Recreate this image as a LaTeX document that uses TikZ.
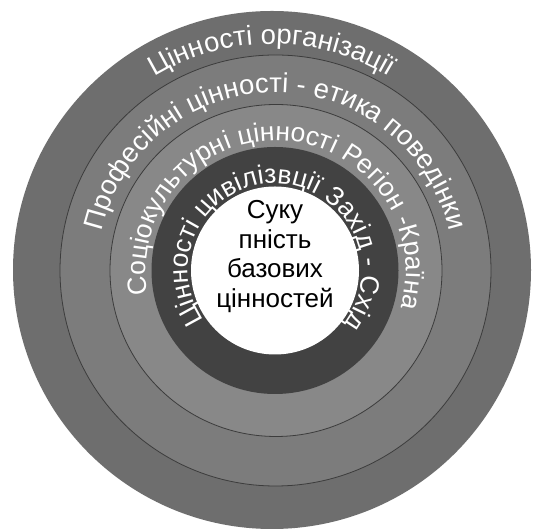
\documentclass[tikz,border=0pt]{standalone}
\usepackage{fontspec}
\setmainfont{Liberation Sans}
\usetikzlibrary{decorations.text}
\definecolor{ringA}{RGB}{110,110,110}
\definecolor{ringB}{RGB}{124,124,124}
\definecolor{ringC}{RGB}{136,136,136}
\definecolor{ringD}{RGB}{66,66,66}
\definecolor{edgeline}{RGB}{60,60,60}
\newcommand{\ringfontA}{\fontsize{27.5}{32}\selectfont\color{white}}
\newcommand{\ringfontB}{\fontsize{26.5}{31}\selectfont\color{white}}
\tikzset{
  ringtext/.style={decorate, decoration={text along path, text align=center, text={|\ringfontA|#1}}},
  innertext/.style={decorate, decoration={text along path, text align=center, text={|\ringfontB|#1}}},
  corelabel/.style={align=center, font=\fontsize{26}{29.5}\selectfont, text=black, inner sep=0pt}
}
\begin{document}
\begin{tikzpicture}[x=1pt,y=1pt]
\useasboundingbox (0,0) rectangle (533,529);
\coordinate (c1) at (272,259);
\coordinate (c2) at (275.5,258.5);
\coordinate (c3) at (276,258.5);
\coordinate (c4) at (275,258.5);
\fill[white] (0,0) rectangle (533,529);
\fill[ringA] (c1) circle[radius=259];
\filldraw[fill=ringB, draw=edgeline, line width=0.8pt] (c2) circle[radius=215.5];
\filldraw[fill=ringC, draw=edgeline, line width=0.8pt] (c3) circle[radius=166];
\fill[ringD] (c4) circle[radius=123.5];
\fill[white] (c4) circle[radius=84];
% ring texts
\path[ringtext={Цінності організації}] (c1) ++(180:226) arc[start angle=180, end angle=0, radius=226];
\path[ringtext={Професійні цінності - етика поведінки}] (c2) ++(230:178) arc[start angle=230, end angle=-50, radius=178];
\path[innertext={Соціокультурні цінності Регіон -Країна}] (c3) ++(250:130) arc[start angle=250, end angle=-76, radius=130];
\path[innertext={Цінності цивілізвції Захід - Схід}] (c4) ++(268:87) arc[start angle=268, end angle=-91, radius=87];
\node[corelabel] (core) at (275,272.5) {Суку\\пність\\базових\\цінностей};
\end{tikzpicture}
\end{document}
